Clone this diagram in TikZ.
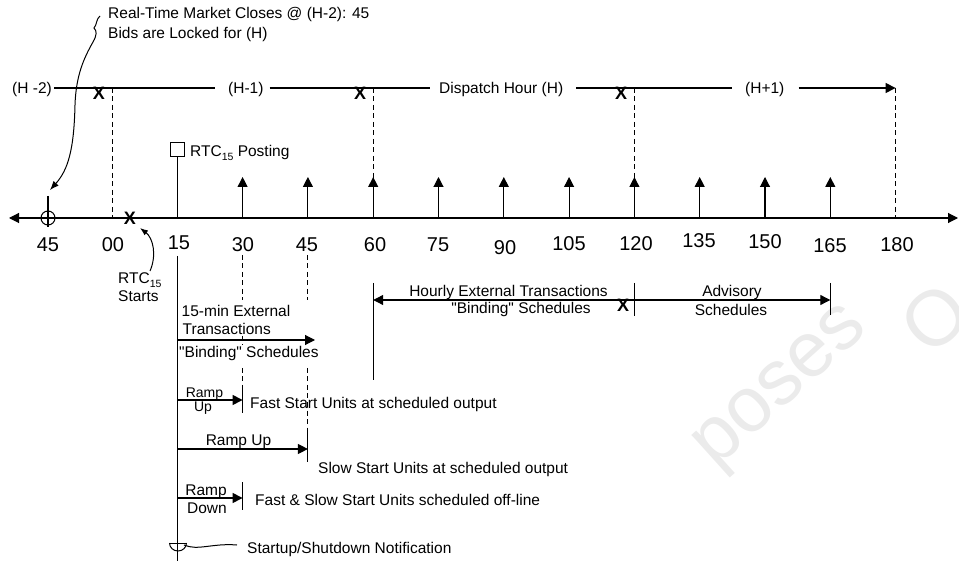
\documentclass[tikz,border=0pt]{standalone}
\usepackage{fontspec}
\setmainfont{Liberation Sans}[Ligatures=TeXOff]
\usetikzlibrary{arrows.meta}
\newcommand\subtxt[1]{\raisebox{-0.45ex}{\fontsize{10.5}{11}\selectfont #1}}
\begin{document}
\begin{tikzpicture}[x=1pt,y=-1pt,
  ln/.style={line width=1.1pt},
  dsh/.style={line width=1pt, dash pattern=on 5pt off 3.5pt},
  tip/.style={-{Triangle[length=10pt,width=10pt]}},
  lbl/.style={inner sep=0pt, font=\fontsize{15.5}{18}\selectfont},
  smlbl/.style={inner sep=0pt, font=\fontsize{14}{16}\selectfont},
  num/.style={inner sep=0pt, font=\fontsize{20}{22}\selectfont, anchor=base},
  xmark/.style={inner sep=0pt, font=\bfseries\fontsize{18}{18}\selectfont, anchor=base},
  wmk/.style={inner sep=0pt, text=black!8, font=\fontsize{78}{80}\selectfont, rotate=42},
]
\useasboundingbox (0,0) rectangle (959,561);
\foreach \t in {0,15,...,180} \coordinate (a\t) at ({112+\t*65.3/15},218);

% watermark
\node[wmk, anchor=base west] (wm) at (715,470) {poses};
\node[wmk] (wmo) at (935,318) {O};

% top note
\node[lbl, anchor=base west] (rt1) at (108,18.5) {Real-Time Market Closes @ (H-2): 45};
\node[lbl, anchor=base west] (rt2) at (108,38.5) {Bids are Locked for (H)};
\coordinate (sq0) at (100,16);
\coordinate (c45top) at (48,196);
\draw[line width=1pt, -{Latex[length=9pt,width=7pt]}] (sq0) .. controls (96,19) and (97,25) .. (94,28) .. controls (97,31) and (97,35) .. (93,42) .. controls (84,58) and (76,75) .. (75,105) .. controls (74,150) and (68,170) .. (50,190);

% hour line
\node[lbl, anchor=base west] (hm2) at (12,94) {(H -2)};
\node[lbl, anchor=base west] (hm1) at (228,94) {(H-1)};
\node[lbl, anchor=base west] (hh) at (439,94) {Dispatch Hour (H)};
\node[lbl, anchor=base west] (hp1) at (745,94) {(H+1)};
\coordinate (h180) at (895.6,88);
\draw[ln] ([xshift=2pt]hm2.east |- h180) -- ([xshift=-13pt]hm1.west |- h180);
\draw[ln] ([xshift=6pt]hm1.east |- h180) -- ([xshift=-9pt]hh.west |- h180);
\draw[ln] ([xshift=13pt]hh.east |- h180) -- ([xshift=-13pt]hp1.west |- h180);
\draw[ln, tip] ([xshift=14pt]hp1.east |- h180) -- (h180);
\node[xmark] (x1) at (99,100) {X};
\node[xmark] (x2) at (360,100) {X};
\node[xmark] (x3) at (621,100) {X};
\foreach \t in {0,60,120,180} \draw[dsh] (a\t |- h180) -- (a\t);

% axis
\coordinate (axL) at (9,218);
\coordinate (axR) at (958,218);
\draw[ln, {Triangle[length=10pt,width=10pt]}-{Triangle[length=10pt,width=10pt]}] (axL) -- (axR);
\node[draw, circle, line width=1pt, minimum size=14pt, inner sep=0] (c45) at (48,218) {};
\draw[ln] (c45top) -- (48,227);

% numbers
\node[num] (nm15) at (48,251.5) {45};
\node[num] (n0) at (113,251.5) {00};
\node[num] (n15) at (179,250) {15};
\node[num] (n30) at (243,252) {30};
\node[num] (n45) at (307,252) {45};
\node[num] (n60) at (375,252) {60};
\node[num] (n75) at (438,252) {75};
\node[num] (n90) at (505,255) {90};
\node[num] (n105) at (569,251) {105};
\node[num] (n120) at (636,250.5) {120};
\node[num] (n135) at (699,248) {135};
\node[num] (n150) at (765,249) {150};
\node[num] (n165) at (830,252.5) {165};
\node[num] (n180) at (897,252) {180};

% up arrows
\foreach \t in {30,45,...,165} \draw[ln, tip] (a\t) -- ++(0,-41);

% posting
\node[draw, line width=1pt, minimum size=13.5pt, inner sep=0, anchor=south] (post) at (177.3,157) {};
\draw[ln] (a15) -- (post);
\node[lbl, anchor=base west] (postl) at (190,157) {RTC\subtxt{15} Posting};

% RTC starts
\node[xmark] (xs) at (130,225) {X};
\node[lbl, anchor=base west] (rtcs1) at (118,284) {RTC\subtxt{15}};
\node[lbl, anchor=base west] (rtcs2) at (118,302) {Starts};
\draw[line width=1pt, -{Latex[length=8pt,width=6pt]}] (150,271) .. controls (157,255) and (153,238) .. (140,228);

% vertical at 15
\coordinate (v15top) at (177.3,256);
\coordinate (v15bot) at (177.3,561);
\draw[ln] (v15top) -- (v15bot);

% dashed guides below 30 and 45
\draw[dsh] (242.6,255) -- (242.6,300);
\draw[dsh] (242.6,336) -- (242.6,345);
\draw[dsh] (242.6,368) -- (242.6,385);
\draw[dsh] (307.9,255) -- (307.9,300);
\draw[dsh] (307.9,368) -- (307.9,433);

% 15-min external
\draw[ln, tip] (177.3,340) -- (315,340);
\node[lbl, anchor=base west] (f1) at (181.5,317) {15-min External};
\node[lbl, anchor=base west] (f2) at (182.5,335) {Transactions};
\node[lbl, anchor=base west] (f3) at (179,358) {"Binding" Schedules};

% hourly external
\draw[ln] (373.2,283) -- (373.2,380);
\draw[ln] (634.4,283) -- (634.4,316);
\draw[ln, {Triangle[length=10pt,width=10pt]}-] (373.2,300) -- (634.4,300);
\node[lbl, anchor=base] (hx1) at (508.5,297) {Hourly External Transactions};
\node[lbl, anchor=base] (hx2) at (521,314) {"Binding" Schedules};
\node[xmark] (xh) at (623,312) {X};

% advisory
\draw[ln, tip] (634.4,300) -- (830.3,300);
\draw[ln] (830.3,283) -- (830.3,315);
\node[lbl, anchor=base] (ad1) at (732,297) {Advisory};
\node[lbl, anchor=base] (ad2) at (731,316) {Schedules};

% ramp up fast
\draw[ln, tip] (177.3,400) -- (242.6,400);
\draw[ln] (242.6,385) -- (242.6,413);
\node[smlbl, anchor=base] (ru1) at (204.5,397) {Ramp};
\node[smlbl, anchor=base] (ru2) at (203,411) {Up};
\node[lbl, anchor=base west] (fs) at (250,409) {Fast Start Units at scheduled output};

% ramp up slow
\draw[ln, tip] (177.3,449) -- (307.9,449);
\draw[ln] (307.9,433) -- (307.9,462);
\node[lbl, anchor=base] (rs) at (238.5,445) {Ramp Up};
\node[lbl, anchor=base west] (ss) at (318,473) {Slow Start Units at scheduled output};

% ramp down
\draw[ln, tip] (177.3,498) -- (242.6,498);
\draw[ln] (242.6,482) -- (242.6,510);
\node[lbl, anchor=base] (rd1) at (206,495) {Ramp};
\node[lbl, anchor=base] (rd2) at (207,513) {Down};
\node[lbl, anchor=base west] (off) at (255,505) {Fast \& Slow Start Units scheduled off-line};

% startup / shutdown
\draw[line width=1pt] (169.5,543) -- (186.5,543);
\draw[line width=1pt] (169.5,543) arc[start angle=180, end angle=0, x radius=8.5, y radius=8];
\draw[line width=1pt] (184,545) .. controls (198,551) and (212,543) .. (237,545);
\node[lbl, anchor=base west] (sn) at (247,553) {Startup/Shutdown Notification};
\end{tikzpicture}
\end{document}
